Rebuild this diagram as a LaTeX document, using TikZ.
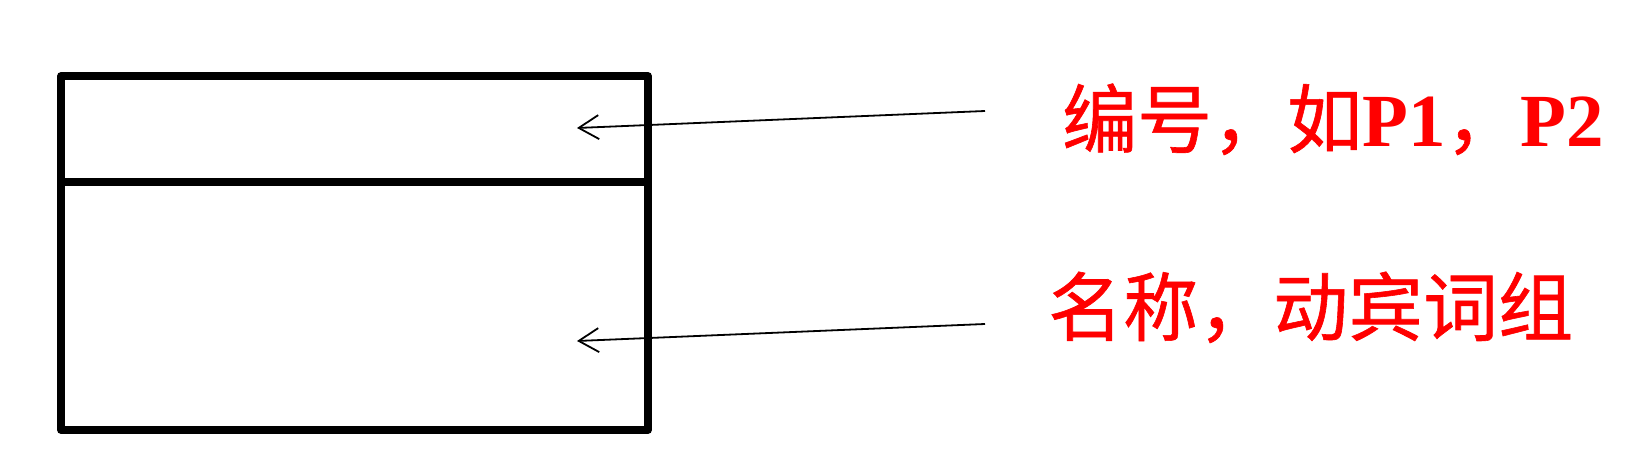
\documentclass[tikz,border=0pt]{standalone}
\usepackage{fontspec}
\newfontfamily\cjk[FakeBold=0.8]{Noto Sans CJK SC}
\newfontfamily\latinb{Liberation Serif Bold}
\usetikzlibrary{arrows.meta}
\begin{document}
\begin{tikzpicture}[x=1pt,y=-1pt,
  cell/.style={draw=black,line width=7.5pt,line join=round,rectangle,inner sep=0pt,outer sep=0pt,minimum width=587pt},
  pointer/.style={draw=black,line width=1.8pt,-{Straight Barb[length=20pt,width=24pt,line width=1.8pt]}},
  label/.style={text=red,font=\cjk\fontsize{75}{80}\selectfont,anchor=base west,inner sep=0pt}]
\useasboundingbox[fill=white] (0,0) rectangle (1647,473);
\node[cell,minimum height=248pt] (name) at (354.5,306) {};
\node[cell,minimum height=106pt] (id) at (354.5,129) {};
\node[label] (lid) at (1062,147) {编号，如{\latinb P1}，{\latinb P2}};
\node[label] (lname) at (1048,335) {名称，动宾词组};
\coordinate (s1) at (985,111);
\coordinate (e1) at (577,128);
\coordinate (s2) at (985,324);
\coordinate (e2) at (577,341);
\draw[pointer] (s1) -- (e1);
\draw[pointer] (s2) -- (e2);
\end{tikzpicture}
\end{document}
